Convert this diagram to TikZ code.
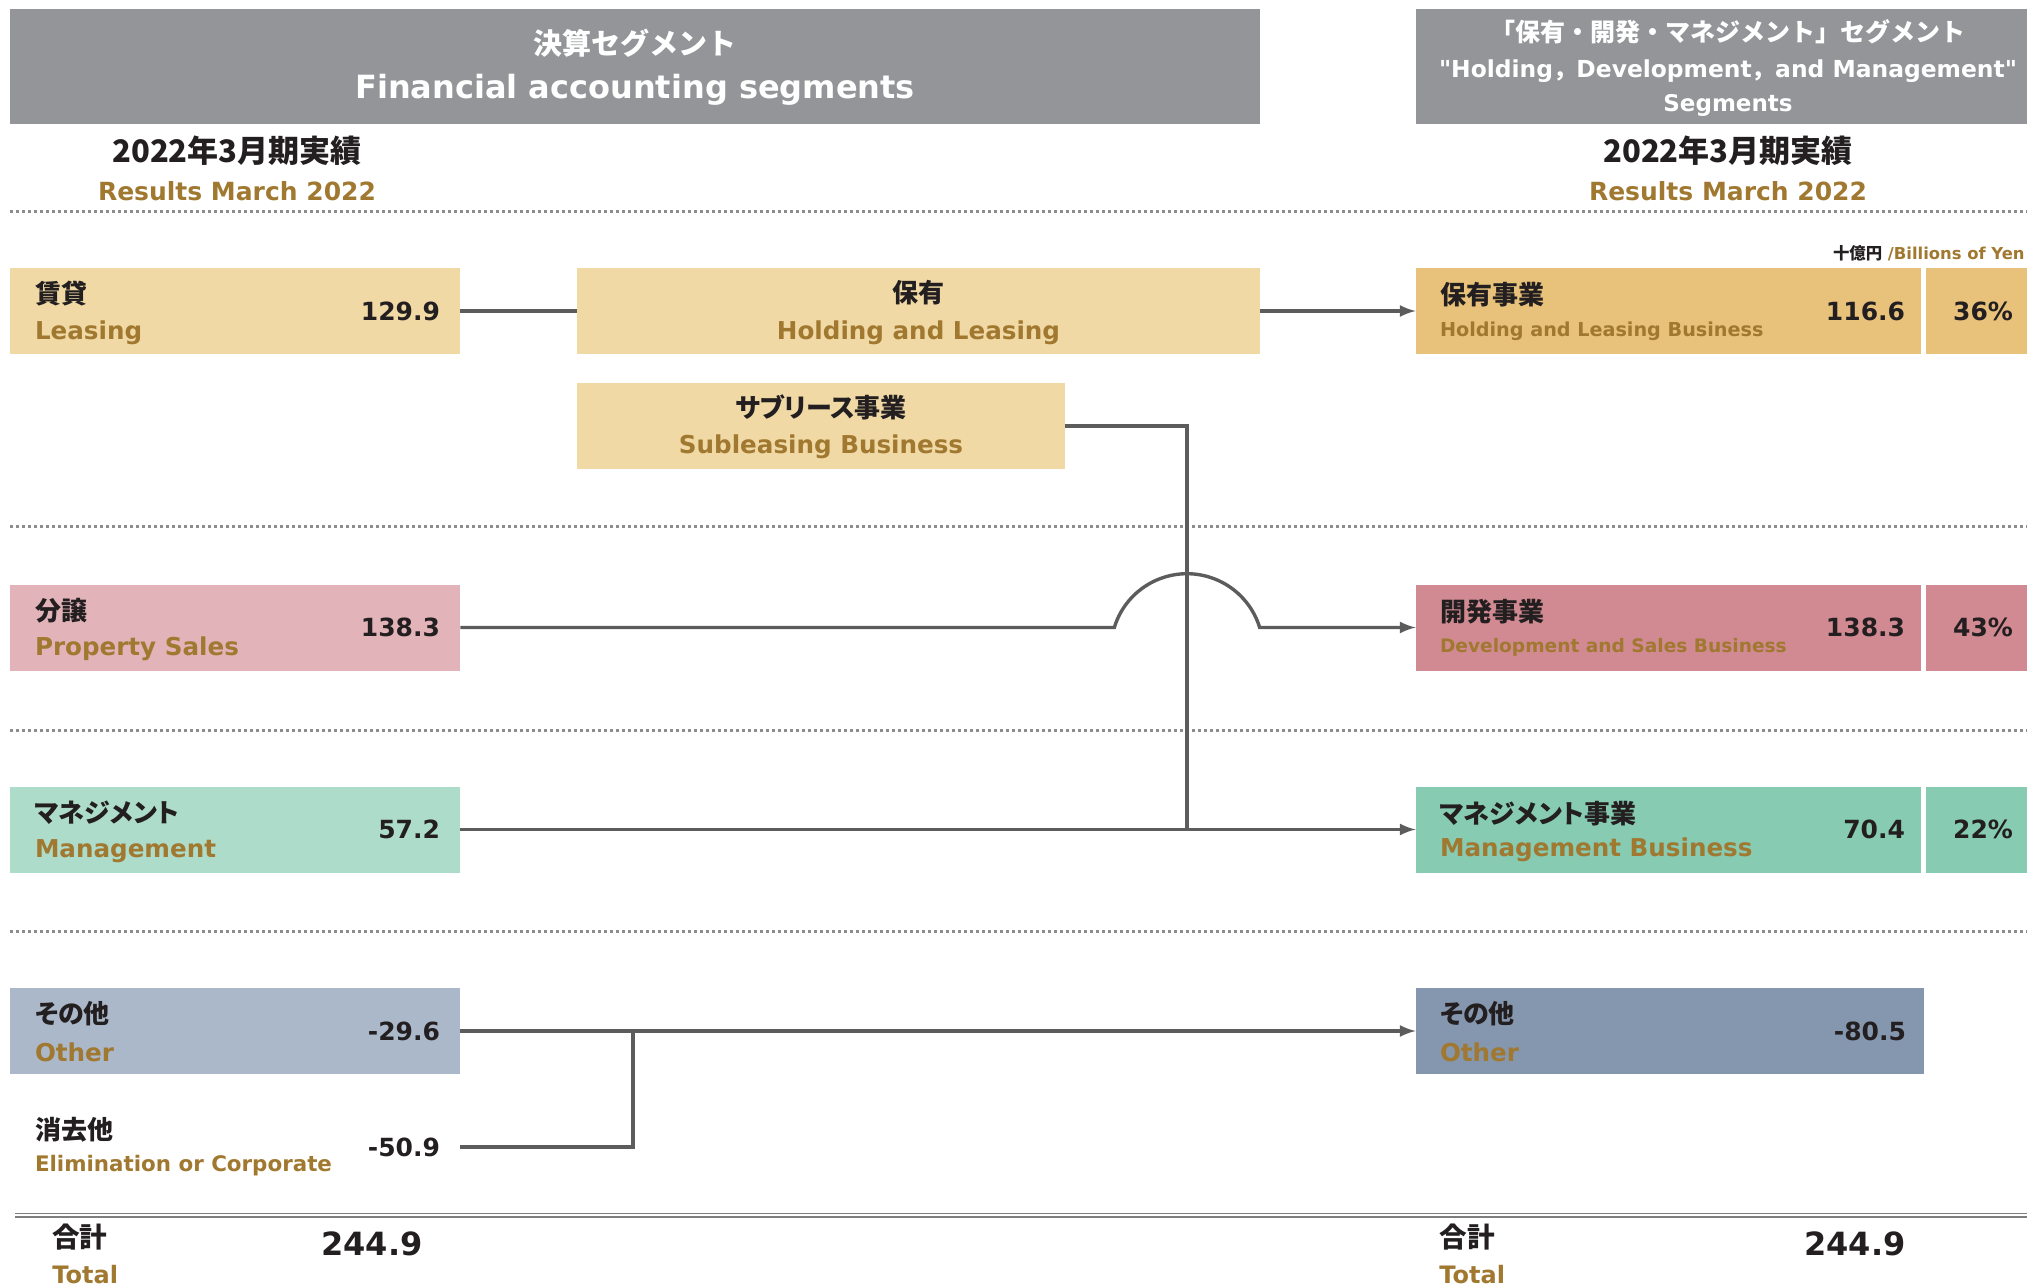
\documentclass[tikz,border=0pt]{standalone}
\usepackage{fontspec}
\setmainfont{DejaVu Sans}[Ligatures=TeXOff]
\newfontfamily\jp{Noto Sans CJK JP}[RawFeature=+palt]
\newfontfamily\jph{Noto Sans CJK JP}
\usetikzlibrary{arrows,positioning}
\definecolor{ink}{RGB}{35,31,32}
\definecolor{gold}{RGB}{160,120,48}
\definecolor{hdr}{RGB}{147,149,152}
\definecolor{wire}{RGB}{92,92,92}
\definecolor{sep}{RGB}{140,140,140}
\definecolor{leaseL}{RGB}{240,217,165}
\definecolor{holdR}{RGB}{232,194,122}
\definecolor{salesL}{RGB}{226,180,185}
\definecolor{devR}{RGB}{209,138,146}
\definecolor{mgmtL}{RGB}{174,220,202}
\definecolor{mgmtR}{RGB}{134,203,178}
\definecolor{otherL}{RGB}{171,184,202}
\definecolor{otherR}{RGB}{133,150,175}
\newcommand\fsz[1]{\fontsize{#1pt}{#1pt}\selectfont}

\begin{document}
\begin{tikzpicture}[x=0.5pt,y=-0.5pt,
box/.style={inner sep=0pt, minimum height=43pt},
jpl/.style={anchor=west, inner sep=0pt, text=ink, font=\jp\bfseries\fsz{13}},
enl/.style={anchor=west, inner sep=0pt, text=gold, font=\bfseries\fsz{12.3}},
val/.style={anchor=east, inner sep=0pt, text=ink, font=\bfseries\fsz{12.5}},
wire/.style={draw=wire, line width=1.7pt},
sepline/.style={draw=sep, line width=1.5pt, dash pattern=on 1.5pt off 1.5pt}]
\useasboundingbox (0,0) rectangle (2027,1288);

% headers
\node[fill=hdr, inner sep=0pt, minimum width=625pt, minimum height=57.5pt] (hdrL) at (635,66.5) {};
\node[text=white, font=\jph\bfseries\fsz{14.5}] (hdrLj) at (635,43) {決算セグメント};
\node[text=white, font=\bfseries\fsz{16}] (hdrLe) at (635,90) {Financial accounting segments};
\node[fill=hdr, inner sep=0pt, minimum width=312pt, minimum height=57.5pt] (hdrR) at (1728,66.5) {};
\node[text=white, font=\jph\bfseries\fsz{12.5}] (hdrRj) at (1728,32) {「保有・開発・マネジメント」セグメント};
\node[text=white, font=\bfseries\fsz{11.7}] (hdrRe) at (1728,71) {"Holding{\jph ，}Development{\jph ，}and Management"};
\node[text=white, font=\bfseries\fsz{11.5}] (hdrRs) at (1728,105) {Segments};

\node[text=ink, font=\jph\bfseries\fsz{15.5}] (yearL) at (237,151) {2022年3月期実績};
\node[text=gold, font=\bfseries\fsz{12.5}] (resL) at (237,191) {Results March 2022};
\node[text=ink, font=\jph\bfseries\fsz{15.5}] (yearR) at (1728,151) {2022年3月期実績};
\node[text=gold, font=\bfseries\fsz{12.5}] (resR) at (1728,191) {Results March 2022};
\node[anchor=east, inner sep=0pt, text=ink, font=\bfseries\fsz{8.2}] (unit) at (2025,253) {{\jph 十億円} \textcolor{gold}{/Billions of Yen}};

\foreach \y in {212,526,730,931}
    \draw[sepline] (10,\y) -- (2040,\y);

% left column
\foreach \nm/\y/\col/\ja/\en/\val in {lease/311/leaseL/賃貸/Leasing/129.9,
    sales/627.5/salesL/分譲/Property Sales/138.3,
    mgmt/829.5/mgmtL/マネジメント/Management/57.2,
    other/1031/otherL/その他/Other/-29.6} {
    \node[box, fill=\col, minimum width=225pt] (\nm) at (235,\y) {};
    \node[jpl] (\nm J) at ([xshift=12.5pt,yshift=8.5pt]\nm.west) {\ja};
    \node[enl] (\nm E) at ([xshift=12.5pt,yshift=-10.8pt]\nm.west) {\en};
    \node[val] (\nm V) at ([xshift=-10pt]\nm.east) {\val};
}
\node[box, minimum width=225pt] (elim) at (235,1147) {};
\node[jpl] (elimJ) at ([xshift=12.5pt,yshift=8.5pt]elim.west) {消去他};
\node[enl, font=\bfseries\fsz{10.7}] (elimE) at ([xshift=12.5pt,yshift=-9.5pt]elim.west) {Elimination or Corporate};
\node[val] (elimV) at ([xshift=-10pt]elim.east) {-50.9};

% middle
\node[box, fill=leaseL, minimum width=341.5pt] (hold) at (918.5,311) {};
\node[jpl, anchor=center] (holdJ) at ([yshift=9pt]hold.center) {保有};
\node[enl, anchor=center] (holdE) at ([yshift=-10.8pt]hold.center) {Holding and Leasing};
\node[box, fill=leaseL, minimum width=244pt] (sub) at (821,426) {};
\node[jpl, anchor=center] (subJ) at ([yshift=9.5pt]sub.center) {サブリース事業};
\node[enl, anchor=center] (subE) at ([yshift=-10.3pt]sub.center) {Subleasing Business};

% right column
\foreach \nm/\y/\col/\ja/\en/\sz/\val/\pc in {holdB/311/holdR/保有事業/Holding and Leasing Business/9.6/116.6/36\%,
    devB/627.5/devR/開発事業/Development and Sales Business/9.3/138.3/43\%,
    mgmtB/829.5/mgmtR/マネジメント事業/Management Business/12.3/70.4/22\%} {
    \node[box, fill=\col, minimum width=252.5pt] (\nm) at (1668.5,\y) {};
    \node[box, fill=\col, minimum width=57pt] (\nm P) at (1983,\y) {};
    \node[jpl] (\nm J) at ([xshift=12pt,yshift=8pt]\nm.west) {\ja};
    \node[enl, font=\bfseries\fsz{\sz}] (\nm E) at ([xshift=12pt,yshift=-10pt]\nm.west) {\en};
    \node[val] (\nm V) at ([xshift=-8pt]\nm.east) {\val};
    \node[val, anchor=center] (\nm Q) at (\nm P.center) {\pc};
}
\node[box, fill=otherR, minimum width=254pt] (otherB) at (1670,1031) {};
\node[jpl] (otherBJ) at ([xshift=12pt,yshift=8.5pt]otherB.west) {その他};
\node[enl] (otherBE) at ([xshift=12pt,yshift=-10.8pt]otherB.west) {Other};
\node[val] (otherBV) at ([xshift=-9pt]otherB.east) {-80.5};

% totals
\draw[sep!90!black, line width=0.8pt, double distance=0.9pt] (15,1215) -- (2040,1215);
\node[jpl, font=\jp\bfseries\fsz{13.8}] (totLJ) at (52,1237) {合計};
\node[enl, font=\bfseries\fsz{12}] (totLE) at (52,1275) {Total};
\node[text=ink, font=\bfseries\fsz{16}] (totLV) at (372,1244) {244.9};
\node[jpl, font=\jp\bfseries\fsz{13.8}] (totRJ) at (1439,1237) {合計};
\node[enl, font=\bfseries\fsz{12}] (totRE) at (1439,1275) {Total};
\node[text=ink, font=\bfseries\fsz{16}] (totRV) at (1855,1244) {244.9};

% connectors
\coordinate (hop) at (1114.3,627.5);
\coordinate (jn) at (1187,829.5);
\coordinate (jo) at (633,1031);
\draw[wire] (lease.east) -- (hold.west);
\draw[wire,-latex] (hold.east) -- (holdB.west);
\draw[wire,-latex] (sales.east) -- (hop) arc[start angle=-163, end angle=-17, radius=76] -- (devB.west);
\draw[wire] (sub.east) -| (jn);
\draw[wire,-latex] (mgmt.east) -- (mgmtB.west);
\draw[wire,-latex] (other.east) -- (otherB.west);
\draw[wire] (elim.east) -| (jo);
\end{tikzpicture}
\end{document}
